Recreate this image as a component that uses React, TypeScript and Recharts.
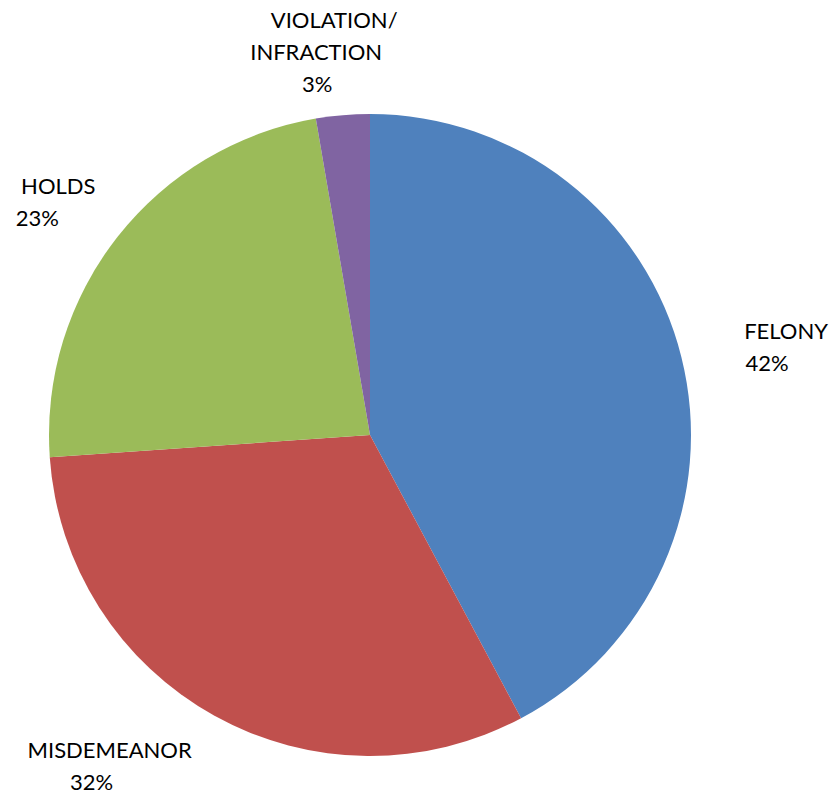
import { PieChart, Pie, Cell } from 'recharts';

const categories = ['FELONY', 'MISDEMEANOR', 'HOLDS', 'VIOLATION/\nINFRACTION'];
const shares = [42.2, 31.7, 23.4, 2.7];
const colors = ['#4F81BD', '#C0504D', '#9BBB59', '#8064A2'];

const data = categories.map((name, i) => ({ name, value: shares[i] }));

// label block nudges (relative to the polar anchor) and per-line x shifts
const labelNudge = [
  { dx: 23, dy: 8, lines: [6, -13] },
  { dx: -76, dy: -19, lines: [9, -9] },
  { dx: -8, dy: 13, lines: [10, -11] },
  { dx: -14, dy: 14, lines: [12, -6, -5] },
];

const RADIAN = Math.PI / 180;
const LINE_H = 32;

function renderLabel(props: any) {
  const { cx, cy, midAngle, outerRadius, percent, index, name } = props;
  const r = outerRadius + 78;
  const nudge = labelNudge[index];
  const x = cx + r * Math.cos(-midAngle * RADIAN) + nudge.dx;
  const y = cy + r * Math.sin(-midAngle * RADIAN) + nudge.dy;
  const lines = [...String(name).split('\n'), `${Math.round(percent * 100)}%`];
  const top = y - ((lines.length - 1) * LINE_H) / 2;
  return (
    <text
      x={x}
      y={y}
      textAnchor="middle"
      dominantBaseline="central"
      fill="#000"
      style={{ fontFamily: 'Lato, sans-serif', fontSize: 22 }}
    >
      {lines.map((line, i) => (
        <tspan key={i} x={x + (nudge.lines[i] || 0)} y={top + i * LINE_H}>
          {line}
        </tspan>
      ))}
    </text>
  );
}

export default function App() {
  return (
    <div style={{ position: 'absolute', left: 0, top: 0, width: 833, height: 796, background: '#fff' }}>
      <PieChart width={833} height={796} margin={{ top: 0, right: 0, bottom: 0, left: 0 }}>
        <Pie
          data={data}
          dataKey="value"
          nameKey="name"
          cx={370}
          cy={435}
          outerRadius={321}
          startAngle={90}
          endAngle={-270}
          stroke="none"
          label={renderLabel}
          labelLine={false}
          isAnimationActive={false}
        >
          {data.map((entry, i) => (
            <Cell key={entry.name} fill={colors[i]} />
          ))}
        </Pie>
      </PieChart>
    </div>
  );
}
